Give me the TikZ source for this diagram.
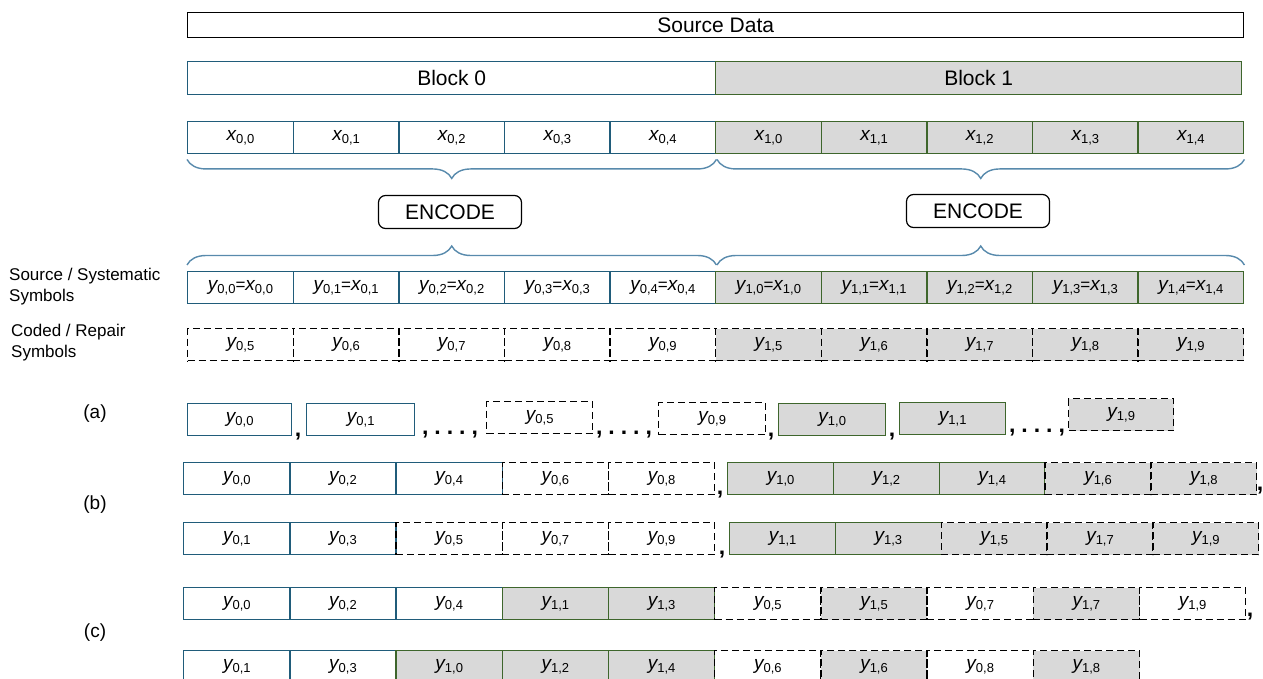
\documentclass[tikz,border=0pt]{standalone}
\usepackage{fontspec}
\setmainfont{Liberation Sans}
\usetikzlibrary{decorations.pathreplacing,calc}
\definecolor{blueedge}{RGB}{32,92,122}
\definecolor{greenedge}{RGB}{62,102,44}
\definecolor{cellgray}{RGB}{217,217,217}
\definecolor{bracecol}{RGB}{88,138,172}
% symbol with subscript, e.g. \sy{y}{0,1}
\newcommand\sy[2]{{\fontsize{19}{19}\selectfont\itshape #1}{\fontsize{13}{13}\selectfont\raisebox{-0.35ex}{#2}}}
% systematic symbol: y_{b,i}=x_{b,i}
\newcommand\syeq[1]{\sy{y}{#1}{\fontsize{17}{17}\selectfont=}\sy{x}{#1}}
\begin{document}
\begin{tikzpicture}[x=1pt,y=-1pt,
  cell/.style={rectangle, anchor=north west, inner sep=0pt, minimum height=32pt,
               line width=1.45pt, minimum width=#1},
  cell/.default=105.6,
  bl/.style={cell=#1, draw=blueedge},
  bl/.default=105.6,
  gr/.style={cell=#1, draw=greenedge, fill=cellgray},
  gr/.default=105.6,
  dw/.style={cell=#1, draw=black, dash pattern=on 7pt off 4pt},
  dw/.default=105.6,
  dg/.style={dw=#1, fill=cellgray},
  dg/.default=105.6,
  big/.style={font=\fontsize{21}{21}\selectfont},
  side/.style={font=\fontsize{17}{21}\selectfont, align=left, anchor=west, inner sep=0pt},
  tag/.style={font=\fontsize{19}{19}\selectfont, inner sep=0pt},
  punct/.style={font=\fontsize{23}{23}\selectfont\bfseries, inner sep=0pt, anchor=base},
  curly/.style={draw=bracecol, line width=1.4pt,
                decorate, decoration={brace, amplitude=19pt, aspect=0.5}},
  encbox/.style={draw=black, line width=1.2pt, rounded corners=7pt,
                 minimum width=143pt, minimum height=33pt, inner sep=0pt,
                 font=\fontsize{21}{21}\selectfont}
]
\useasboundingbox (0,0) rectangle (1263,679);

% ---------- source data and the two blocks ----------
\node[draw=black, line width=1.4pt, anchor=north west, minimum width=1056pt,
      minimum height=25pt, inner sep=0pt, big] (src) at (187,12) {Source Data};
\node[bl=528, minimum height=33pt, big] (blk0) at (187,61) {Block 0};
\node[gr=526, minimum height=33pt, big] (blk1) at (715,61) {Block 1};

% ---------- source symbols x ----------
\foreach \i in {0,...,4}{
  \node[bl] (x0\i) at ({187+105.6*\i},121) {\sy{x}{0,\i}};
}
\foreach \i in {0,...,4}{
  \node[gr] (x1\i) at ({715+105.6*\i},121) {\sy{x}{1,\i}};
}

% ---------- encoding ----------
\draw[curly] ($(x04.south east)+(0,5)$) -- ($(x00.south west)+(0,5)$);
\draw[curly] ($(x14.south east)+(0,5)$) -- ($(x10.south west)+(2,5)$);
\node[encbox] (enc0) at (450,212) {ENCODE};
\node[encbox] (enc1) at (978,211) {ENCODE};

% ---------- systematic symbols ----------
\foreach \i in {0,...,4}{
  \node[bl] (s0\i) at ({187+105.6*\i},271) {\syeq{0,\i}};
}
\foreach \i in {0,...,4}{
  \node[gr] (s1\i) at ({715+105.6*\i},271) {\syeq{1,\i}};
}
\draw[curly] ($(s00.north west)+(0,-6)$) -- ($(s04.north east)+(0,-6)$);
\draw[curly] ($(s10.north west)+(2,-6)$) -- ($(s14.north east)+(0,-6)$);

% ---------- repair symbols ----------
\foreach \i [evaluate=\i as \j using int(\i+5)] in {0,...,4}{
  \node[dw] (r0\i) at ({187+105.6*\i},328) {\sy{y}{0,\j}};
}
\foreach \i [evaluate=\i as \j using int(\i+5)] in {0,...,4}{
  \node[dg] (r1\i) at ({715+105.6*\i},328) {\sy{y}{1,\j}};
}

\node[side] (lsrc) at (9,287) {Source / Systematic\\Symbols};
\node[side] (lrep) at (11,343) {Coded / Repair\\Symbols};

% ---------- (a) one block after the other ----------
\node[tag] (ta) at (95,414) {(a)};
\node[bl=104] (a1) at (187,403) {\sy{y}{0,0}};
\node[bl=108] (a2) at (306,403) {\sy{y}{0,1}};
\node[dw=106] (a3) at (486,401) {\sy{y}{0,5}};
\node[dw=107] (a4) at (658,402) {\sy{y}{0,9}};
\node[gr=107] (a5) at (778,403) {\sy{y}{1,0}};
\node[gr=106] (a6) at (899,402) {\sy{y}{1,1}};
\node[dg=105] (a7) at (1068,398) {\sy{y}{1,9}};
\node[punct] (pa1) at (298,436) {,};
\node[punct] (pa2) at (450,434) {,\hspace{6pt}.\hspace{6pt}.\hspace{6pt}.\hspace{6pt},};
\node[punct] (pa3) at (624,434) {,\hspace{6pt}.\hspace{6pt}.\hspace{6pt}.\hspace{6pt},};
\node[punct] (pa4) at (771,436) {,};
\node[punct] (pa5) at (892,436) {,};
\node[punct] (pa6) at (1037,432) {,\hspace{6pt}.\hspace{6pt}.\hspace{6pt}.\hspace{6pt},};

% ---------- (b) even / odd interleaving within each block ----------
\node[tag] (tb) at (95,505) {(b)};
\node[bl=106.2] (b100) at (183,462)   {\sy{y}{0,0}};
\node[bl=106.2] (b102) at (289.2,462) {\sy{y}{0,2}};
\node[bl=106.2] (b104) at (395.4,462) {\sy{y}{0,4}};
\node[dw=106.2] (b106) at (501.6,462) {\sy{y}{0,6}};
\node[dw=106.2] (b108) at (607.8,462) {\sy{y}{0,8}};
\node[gr=105.8] (b110) at (727,462)   {\sy{y}{1,0}};
\node[gr=105.8] (b112) at (832.8,462) {\sy{y}{1,2}};
\node[gr=105.8] (b114) at (938.6,462) {\sy{y}{1,4}};
\node[dg=105.8] (b116) at (1044.4,462) {\sy{y}{1,6}};
\node[dg=105.8] (b118) at (1150.2,462) {\sy{y}{1,8}};
\node[punct] (pb1) at (720,494) {,};
\node[punct] (pb2) at (1260,490) {,};

\node[bl=106.2] (b201) at (183,522)   {\sy{y}{0,1}};
\node[bl=106.2] (b203) at (289.2,522) {\sy{y}{0,3}};
\node[dw=106.2] (b205) at (395.4,522) {\sy{y}{0,5}};
\node[dw=106.2] (b207) at (501.6,522) {\sy{y}{0,7}};
\node[dw=106.2] (b209) at (607.8,522) {\sy{y}{0,9}};
\node[gr=105.8] (b211) at (729,522)   {\sy{y}{1,1}};
\node[gr=105.8] (b213) at (834.8,522) {\sy{y}{1,3}};
\node[dg=105.8] (b215) at (940.6,522) {\sy{y}{1,5}};
\node[dg=105.8] (b217) at (1046.4,522) {\sy{y}{1,7}};
\node[dg=105.8] (b219) at (1152.2,522) {\sy{y}{1,9}};
\node[punct] (pb3) at (722,554) {,};

% ---------- (c) interleaving across blocks ----------
\node[tag] (tc) at (95,633) {(c)};
\node[bl=106.2] (c100) at (183,587)    {\sy{y}{0,0}};
\node[bl=106.2] (c102) at (289.2,587)  {\sy{y}{0,2}};
\node[bl=106.2] (c104) at (395.4,587)  {\sy{y}{0,4}};
\node[gr=106.2] (c111) at (501.6,587)  {\sy{y}{1,1}};
\node[gr=106.2] (c113) at (607.8,587)  {\sy{y}{1,3}};
\node[dw=106.2] (c105) at (714,587)    {\sy{y}{0,5}};
\node[dg=106.2] (c115) at (820.2,587)  {\sy{y}{1,5}};
\node[dw=106.2] (c107) at (926.4,587)  {\sy{y}{0,7}};
\node[dg=106.2] (c117) at (1032.6,587) {\sy{y}{1,7}};
\node[dw=106.2] (c119) at (1138.8,587) {\sy{y}{1,9}};
\node[punct] (pc1) at (1250,616) {,};

\node[bl=106.2] (c201) at (183,650)    {\sy{y}{0,1}};
\node[bl=106.2] (c203) at (289.2,650)  {\sy{y}{0,3}};
\node[gr=106.2] (c210) at (395.4,650)  {\sy{y}{1,0}};
\node[gr=106.2] (c212) at (501.6,650)  {\sy{y}{1,2}};
\node[gr=106.2] (c214) at (607.8,650)  {\sy{y}{1,4}};
\node[dw=106.2] (c206) at (714,650)    {\sy{y}{0,6}};
\node[dg=106.2] (c216) at (820.2,650)  {\sy{y}{1,6}};
\node[dw=106.2] (c208) at (926.4,650)  {\sy{y}{0,8}};
\node[dg=106.2] (c218) at (1032.6,650) {\sy{y}{1,8}};
\end{tikzpicture}
\end{document}
